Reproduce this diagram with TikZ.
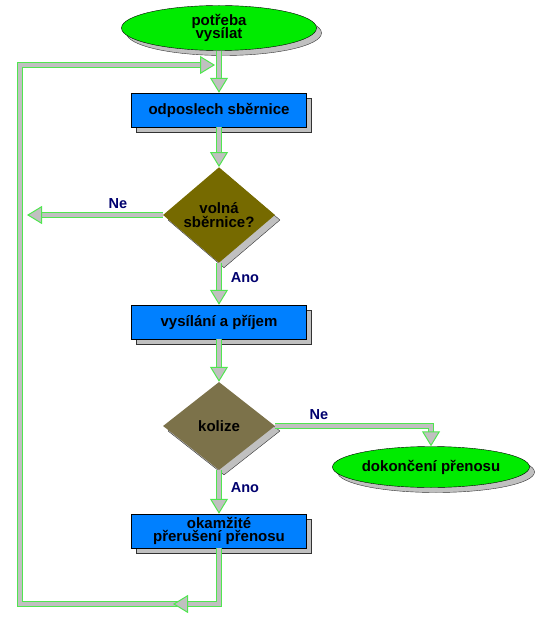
\documentclass[tikz,border=0pt]{standalone}
\usepackage{fontspec}
\setmainfont{Liberation Sans}
\usetikzlibrary{shapes.geometric,shadows,arrows.meta}

\definecolor{termgreen}{RGB}{0,235,0}
\definecolor{boxblue}{RGB}{0,128,255}
\definecolor{olivea}{RGB}{118,106,0}
\definecolor{oliveb}{RGB}{124,114,74}
\definecolor{flowgreen}{RGB}{80,230,80}
\definecolor{flowgray}{RGB}{192,192,192}
\definecolor{labnavy}{RGB}{0,0,110}

\tikzset{
  txt/.style={font=\fontsize{15}{16.5}\selectfont\bfseries, align=center},
  shade5/.style={drop shadow={shadow xshift=5pt, shadow yshift=-5pt,
      fill=flowgray, draw=black!80, opacity=1}},
  term/.style={txt, ellipse, draw=black, fill=termgreen, shade5, inner sep=0pt},
  proc/.style={txt, rectangle, draw=black, fill=boxblue, shade5,
      minimum width=175pt, minimum height=34pt, inner sep=0pt},
  decide/.style={txt, diamond, draw=none, shade5, inner sep=0pt,
      minimum width=112pt, minimum height=88pt},
  flow/.style={draw=flowgreen, line width=1.1pt, double=flowgray,
      double distance=3.8pt,
      -{Triangle[length=15pt, width=18pt, fill=flowgray, line width=1pt]}},
  lab/.style={font=\fontsize{14.5}{16}\selectfont\bfseries, text=labnavy}
}

\begin{document}
\begin{tikzpicture}[x=1pt,y=-1pt]
\useasboundingbox (0,0) rectangle (555,617);

% nodes
\node (need) [term, minimum width=195pt, minimum height=45pt] at (219,28)
    {potřeba\\[-3pt]vysílat};
\node (listen) [proc] at (219,110) {odposlech sběrnice};
\node (free) [decide, fill=olivea] at (219,215) {volná\\[-3pt]sběrnice?};
\node (send) [proc] at (219,322) {vysílání a příjem};
\node (coll) [decide, fill=oliveb] at (219,426) {kolize};
\node (done) [term, minimum width=197pt, minimum height=41pt] at (431,467)
    {dokončení přenosu};
\node (stop) [proc] at (219,531) {okamžité\\[-3pt]přerušení přenosu};

% loop back
\coordinate (loopbl) at (20,604);
\coordinate (looptl) at (20,65);
\coordinate (loopin) at (215,65);
\coordinate (neend) at (27,213);
\coordinate (midtail) at (205,604);
\coordinate (midtip) at (173,604);
\draw [flow] (stop.south) |- (loopbl) -- (looptl) -- (loopin);
\draw [flow] (midtail) -- (midtip);

% main flow
\draw [flow] (need.south) -- (listen.north);
\draw [flow] (listen.south) -- (free.north);
\draw [flow] (free.south) -- node[lab, right=8pt, pos=0.35] {Ano} (send.north);
\draw [flow] (free.west) -- node[lab, above=2pt, pos=0.33] {Ne} (free.west -| neend);
\draw [flow] (send.south) -- (coll.north);
\draw [flow] (coll.south) -- node[lab, right=8pt, pos=0.4] {Ano} (stop.north);
\draw [flow] (coll.east) -| node[lab, above=2pt, pos=0.14] {Ne} (done.north);
\end{tikzpicture}
\end{document}
